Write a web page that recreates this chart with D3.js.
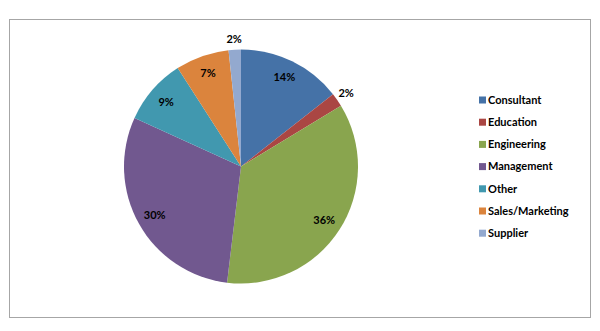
<!DOCTYPE html>
<html>
<head>
<meta charset="utf-8">
<script src="https://cdn.jsdelivr.net/npm/d3@7"></script>
<style>
  body { margin: 0; background: #fff; }
  text { font-family: Lato, "Open Sans", sans-serif; }
</style>
</head>
<body>
<svg id="chart" width="600" height="331"></svg>
<script>
// chart data
const categories = ["Consultant", "Education", "Engineering", "Management", "Other", "Sales/Marketing", "Supplier"];
const shares = [14.4, 1.9, 35.6, 29.9, 9.1, 7.4, 1.7];
const colors = ["#4572A7", "#AA4643", "#89A54E", "#71588F", "#4198AF", "#DB843D", "#93A9CF"];
// small slices get their label outside the pie
const outside = ["Education", "Supplier"];

const view = {
  width: 600,
  height: 331,
  cx: 241,
  cy: 166.5,
  r: 117,
  labelR: 99,
  outerLabelR: 128
}

const svg = d3.select("svg#chart");

// frame around the chart area
svg.append("rect")
  .attr("x", 9.5).attr("y", 19.5)
  .attr("width", 581).attr("height", 298)
  .attr("fill", "#fff")
  .attr("stroke", "#a6a6a6")
  .attr("stroke-width", 1);

const data = categories.map((c, i) => ({ name: c, value: shares[i] }));

const pie = d3.pie().sort(null).value(d => d.value);
const arcs = pie(data);

const arc = d3.arc().innerRadius(0).outerRadius(view.r);
const labelArc = d3.arc().innerRadius(view.labelR).outerRadius(view.labelR);
const outerArc = d3.arc().innerRadius(view.outerLabelR).outerRadius(view.outerLabelR);

const color = d3.scaleOrdinal().domain(categories).range(colors);

const g = svg.append("g")
  .attr("transform", `translate(${view.cx},${view.cy})`);

g.selectAll("path")
  .data(arcs)
  .join("path")
  .attr("d", arc)
  .attr("fill", d => color(d.data.name));

g.selectAll("text")
  .data(arcs)
  .join("text")
  .attr("transform", d => {
    const p = outside.includes(d.data.name) ? outerArc.centroid(d) : labelArc.centroid(d);
    return `translate(${p[0]},${p[1]})`;
  })
  .attr("text-anchor", "middle")
  .attr("dy", "0.35em")
  .style("font-size", "11px")
  .style("font-weight", "bold")
  .style("fill", "#000")
  .text(d => Math.round(d.data.value) + "%");

// legend on the right
const legend = svg.append("g")
  .attr("transform", "translate(479,100)");

const row = legend.selectAll("g")
  .data(categories)
  .join("g")
  .attr("transform", (d, i) => `translate(0,${i * 22.2})`);

row.append("rect")
  .attr("x", 0).attr("y", -3.5)
  .attr("width", 7).attr("height", 7)
  .attr("fill", d => color(d));

row.append("text")
  .attr("x", 9)
  .attr("dy", "0.35em")
  .style("font-size", "11px")
  .style("font-weight", "bold")
  .style("fill", "#000")
  .text(d => d);
</script>
</body>
</html>
